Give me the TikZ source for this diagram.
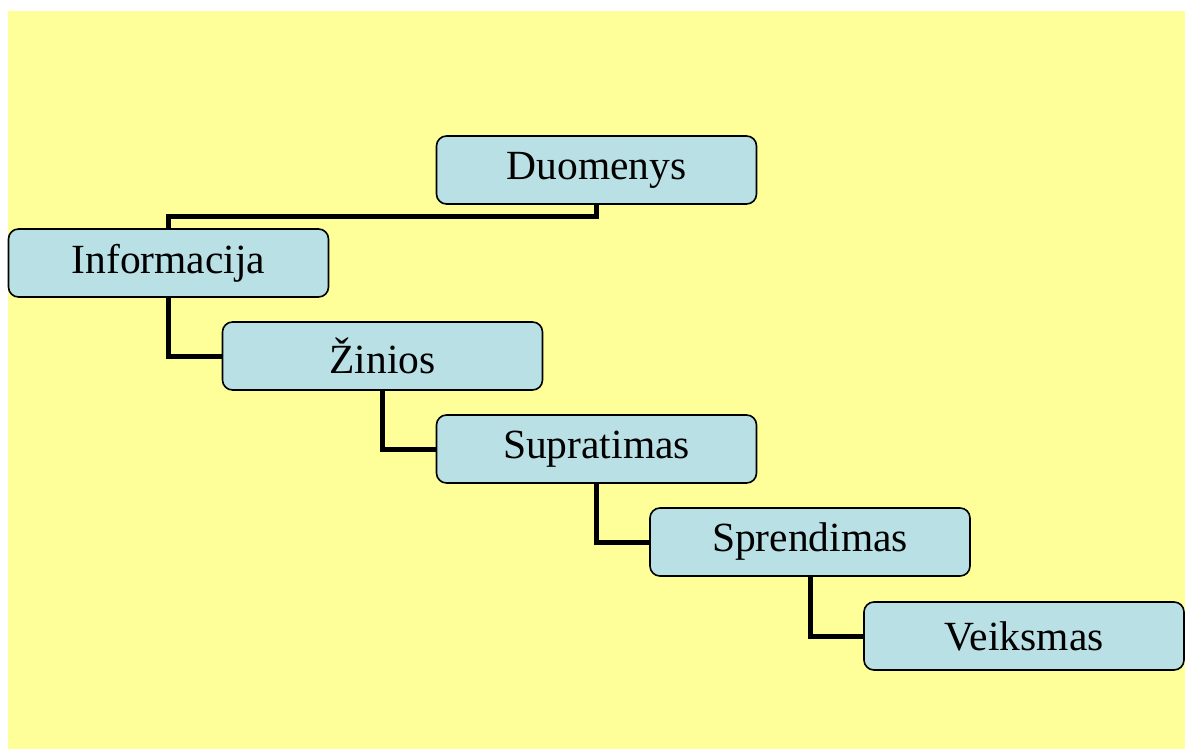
\documentclass[tikz,border=0pt]{standalone}
\usepackage{fontspec}
\setmainfont{Liberation Serif}
\usetikzlibrary{backgrounds}
\definecolor{bgyellow}{HTML}{FFFF99}
\definecolor{boxblue}{HTML}{B9E0E5}
\begin{document}
\begin{tikzpicture}[x=1pt,y=-1pt,
  stage/.style={draw=black, line width=1.6pt, fill=boxblue, rounded corners=10pt,
    minimum width=320pt, minimum height=68pt, inner sep=0pt,
    font=\fontsize{41.5}{43}\selectfont},
  link/.style={line width=5pt, black}]
\useasboundingbox (0,0) rectangle (1191,749);
\node[stage] (d) at (596.5,170) {Duomenys};
\node[stage] (i) at (168.5,263) {Informacija};
\node[stage] (z) at (382.5,356) {Žinios};
\node[stage] (s) at (596.5,449) {Supratimas};
\node[stage] (p) at (810,542) {Sprendimas};
\node[stage] (v) at (1024,636) {Veiksmas};
\begin{scope}[on background layer]
\fill[bgyellow] (8,11) rectangle (1185,749);
\draw[link] (d.south) -- ++(0,12) -| (i.north);
\draw[link] (i.south) |- (z.west);
\draw[link] (z.south) |- (s.west);
\draw[link] (s.south) |- (p.west);
\draw[link] (p.south) |- (v.west);
\end{scope}
\end{tikzpicture}
\end{document}
